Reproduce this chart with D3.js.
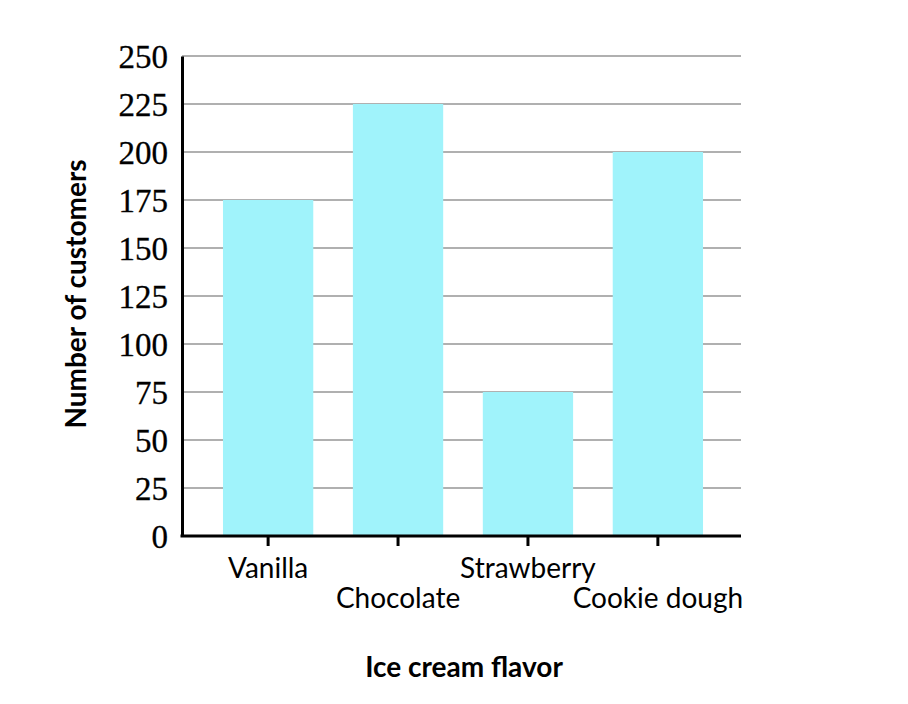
<!DOCTYPE html>
<html><head><meta charset="utf-8">
<script src="https://cdn.jsdelivr.net/npm/d3@7"></script>
<style>body{margin:0;background:#fff}</style>
</head><body>
<svg id="chart" width="908" height="704"></svg>
<script>
const categories = ["Vanilla", "Chocolate", "Strawberry", "Cookie dough"];
const values = [175, 225, 75, 200];
const yTicks = [0, 25, 50, 75, 100, 125, 150, 175, 200, 225, 250];
const xTitle = "Ice cream flavor";
const yTitle = "Number of customers";

(function () {
const svg = d3.select("#chart");
const mLeft = 182, mRight = 741, mTop = 56, mBottom = 536;

const x = d3.scaleBand().domain(categories).range([184, 742]).paddingInner(0.305).paddingOuter(0.3);
const y = d3.scaleLinear().domain([0, 250]).range([mBottom, mTop]);

// gridlines
svg.append("g").selectAll("line").data(yTicks.filter(d => d > 0)).join("line")
  .attr("x1", mLeft).attr("x2", mRight)
  .attr("y1", d => y(d)).attr("y2", d => y(d))
  .attr("stroke", "#b0b0b0").attr("stroke-width", 1.8);

// bars
svg.append("g").selectAll("rect").data(values).join("rect")
  .attr("x", (d, i) => x(categories[i]))
  .attr("width", x.bandwidth())
  .attr("y", d => y(d))
  .attr("height", d => y(0) - y(d))
  .attr("fill", "#a0f3fb");

// y axis
const yAxis = svg.append("g").attr("transform", `translate(${mLeft},0)`)
  .call(d3.axisLeft(y).tickValues(yTicks).tickSize(0).tickPadding(14));
yAxis.select(".domain").attr("stroke", "#000").attr("stroke-width", 3);
yAxis.selectAll("text").attr("font-family", "'Liberation Serif', serif")
  .attr("font-size", 33).attr("fill", "#000").attr("dy", "0.34em")
  .attr("stroke", "#000").attr("stroke-width", 0.3);

// x axis
const xAxis = svg.append("g").attr("transform", `translate(0,${mBottom})`)
  .call(d3.axisBottom(x).tickSize(10).tickSizeOuter(0));
xAxis.select(".domain").attr("d", `M${mLeft - 1.5},0H${mRight}`).attr("stroke", "#000").attr("stroke-width", 3);
xAxis.selectAll(".tick line").attr("stroke", "#000").attr("stroke-width", 3);
xAxis.selectAll("text")
  .attr("font-family", "Lato, sans-serif").attr("font-size", 28).attr("fill", "#000")
  .attr("y", (d, i) => i % 2 === 0 ? 22 : 52.5).attr("dy", "0.71em");

// titles
svg.append("text").attr("x", 464).attr("y", 677).attr("text-anchor", "middle")
  .attr("font-family", "Lato, sans-serif").attr("font-weight", "bold").attr("font-size", 28)
  .text(xTitle);
svg.append("text").attr("transform", "translate(86,294) rotate(-90)").attr("text-anchor", "middle")
  .attr("font-family", "Lato, sans-serif").attr("font-weight", "bold").attr("font-size", 28)
  .text(yTitle);
})();
</script>
</body></html>
